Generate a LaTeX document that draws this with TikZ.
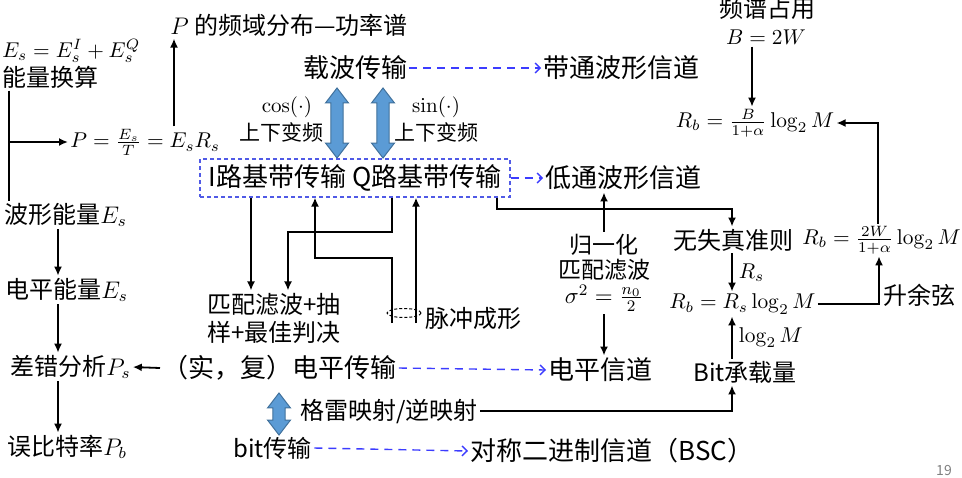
\RequirePackage{fix-cm}
\documentclass[tikz,border=0pt]{standalone}
\usepackage{amsmath}
\usepackage[no-math]{fontspec}
\setmainfont{Noto Sans CJK SC}
\usetikzlibrary{arrows.meta, shapes.arrows, shapes.geometric}
\definecolor{dashblue}{RGB}{60,60,255}
\definecolor{boxblue}{RGB}{80,90,230}
\definecolor{arrfill}{RGB}{91,155,213}
\definecolor{arrline}{RGB}{65,113,156}

\begin{document}
\begin{tikzpicture}[x=0.5pt, y=-0.5pt,
        big/.style={font=\fontsize{13}{15}\selectfont, inner sep=1pt},
        txt/.style={font=\fontsize{12}{14}\selectfont, inner sep=1pt},
        eq/.style={font=\fontsize{10.7}{13}\selectfont, inner sep=1pt},
        sml/.style={font=\fontsize{10.5}{12}\selectfont, inner sep=1pt},
        line/.style={line width=0.9pt},
        arr/.style={line, -{Latex[length=4.5pt, width=4pt]}},
        chan/.style={dashblue, line width=0.7pt, dash pattern=on 4pt off 3pt,
                     -{Straight Barb[length=2.5pt, width=5pt]}},
        dblarr/.style={double arrow, draw=arrline, fill=arrfill, line width=0.5pt,
                       rotate=90, inner xsep=0pt, inner ysep=2.8pt,
                       double arrow head extend=2.7pt, double arrow tip angle=75},
    ]
    \useasboundingbox (0,0) rectangle (962,477);

    % energy column
    \node[eq, anchor=west] (esum) at (0,51) {$E_s=E_s^I+E_s^Q$};
    \node[txt, anchor=west] (conv) at (0,77) {能量换算};
    \node[eq, anchor=west] (pow) at (68,142) {$P=\frac{E_s}{T}=E_sR_s$};
    \node[txt] (psd) at (289,25) {$P$ 的频域分布—功率谱};
    \node[txt, anchor=west] (wav) at (2,215) {波形能量$E_s$};
    \node[txt, anchor=west] (lvl) at (3,290) {电平能量$E_s$};
    \node[txt, anchor=west] (err) at (8,367) {差错分析$P_s$};
    \node[txt, anchor=west] (ber) at (5,447) {误比特率$P_b$};
    \coordinate (tap) at (9,142);
    \draw[line] (9,0 |- conv.south) -- (9,0 |- wav.north);
    \draw[arr] (tap) -- (pow.west);
    \draw[arr] (174,0 |- pow.north) -- (174,0 |- psd.south);
    \draw[arr] (58,0 |- wav.south) -- (58,0 |- lvl.north);
    \draw[arr] (58,0 |- lvl.south) -- (58,0 |- err.north);
    \draw[arr] (58,0 |- err.south) -- (58,0 |- ber.north);

    % carrier and baseband
    \node[big] (carrier) at (355,68) {载波传输};
    \node[big, anchor=west] (bpch) at (541,68) {带通波形信道};
    \node[dblarr, minimum height=35pt] (upI) at (337,123) {};
    \node[dblarr, minimum height=35pt] (upQ) at (383,123) {};
    \node[sml] (cosl) at (287,107) {$\cos(\cdot)$};
    \node[sml] (cosf) at (281,132) {上下变频};
    \node[sml] (sinl) at (436,107) {$\sin(\cdot)$};
    \node[sml] (sinf) at (436,132) {上下变频};
    \node[big, draw=boxblue, dash pattern=on 2pt off 1.5pt, line width=0.6pt,
          minimum width=155pt, minimum height=19pt] (iq) at (355,178) {I路基带传输 Q路基带传输};
    \node[big, anchor=west] (lpch) at (543,178) {低通波形信道};
    \draw[chan] (carrier.east) -- (bpch.west);
    \draw[chan] (iq.east) -- (lpch.west);

    % receiver and pulse shaping
    \node[txt, align=left] (mf) at (274,318) {匹配滤波+抽\\样+最佳判决};
    \node[txt, anchor=west] (pulse) at (423,318) {脉冲成形};
    \node[ellipse, draw, dash pattern=on 1.5pt off 1pt, line width=0.5pt, minimum width=17pt,
          minimum height=4.5pt, inner sep=0pt] (ring) at (404,313) {};
    \coordinate (pI) at (392,323);
    \coordinate (pQ) at (416,323);
    \draw[arr] (251,0 |- iq.south) -- (251,0 |- mf.north);
    \draw[arr] (392,0 |- iq.south) |- (288,232) -- (288,0 |- mf.north);
    \draw[arr] (pI) |- (315,258) -- (315,0 |- iq.south);
    \draw[arr] (pQ) -- (pQ |- iq.south);

    % normalised matched filter
    \node[font=\fontsize{11.5}{12.5}\selectfont, align=center, inner sep=1pt] (norm) at (604,273)
        {归一化\\匹配滤波\\$\sigma^2=\frac{n_0}{2}$};

    % level and bit transmission
    \node[big, anchor=west] (lvtx) at (160,368) {（实，复）电平传输};
    \node[big, anchor=west] (lvch) at (546,370) {电平信道};
    \node[dblarr, minimum height=21pt] (gray) at (279,414) {};
    \node[txt, anchor=west] (graym) at (298,411) {格雷映射/逆映射};
    \node[txt, anchor=west] (bittx) at (231,448) {bit传输};
    \node[big, anchor=west] (bsc) at (468,451) {对称二进制信道（BSC）};
    \draw[arr] (lvtx.west) -- (err.east);
    \draw[chan] (lvtx.east) -- (lvch.west);
    \draw[chan] (bittx.east) -- (bsc.west);
    \draw[arr] (norm.north) -- (norm.north |- lpch.south);
    \draw[arr] (norm.south) -- (norm.south |- lvch.north);

    % bit rate
    \node[txt] (bwl) at (767,8) {频谱占用};
    \node[eq] (bw) at (766,37) {$B=2W$};
    \node[eq] (rbB) at (755,123) {$R_b=\frac{B}{1+\alpha}\log_2 M$};
    \node[txt, anchor=west] (nodist) at (671,240) {无失真准则};
    \node[eq, anchor=west] (rbW) at (800,240) {$R_b=\frac{2W}{1+\alpha}\log_2 M$};
    \node[eq, anchor=west] (rbs) at (667,304) {$R_b=R_s\log_2 M$};
    \node[txt, anchor=west] (bitl) at (691,372) {Bit承载量};
    \node[txt, anchor=west] (rc) at (881,295) {升余弦};
    \draw[arr] (752,0 |- bw.south) -- (752,0 |- rbB.north);
    \draw[arr] (878,0 |- rbW.north) |- (rbB.east);
    \draw[arr] (iq.south -| 497,0) |- (732,209) -- (732,0 |- nodist.north);
    \draw[arr] (732,0 |- nodist.south) -- (732,0 |- rbs.north)
        node[eq, midway, right, xshift=2pt] (rsl) {$R_s$};
    \draw[arr] (732,0 |- bitl.north) -- (732,0 |- rbs.south)
        node[eq, midway, right, xshift=2pt] (lgm) {$\log_2 M$};
    \draw[arr] (rbs.east) -| (879,0 |- rbW.south);
    \draw[arr] (graym.east) -| (732,0 |- bitl.south);

    \node[font=\fontsize{7}{8}\selectfont, text=gray] (pnum) at (944,470) {19};
\end{tikzpicture}
\end{document}
